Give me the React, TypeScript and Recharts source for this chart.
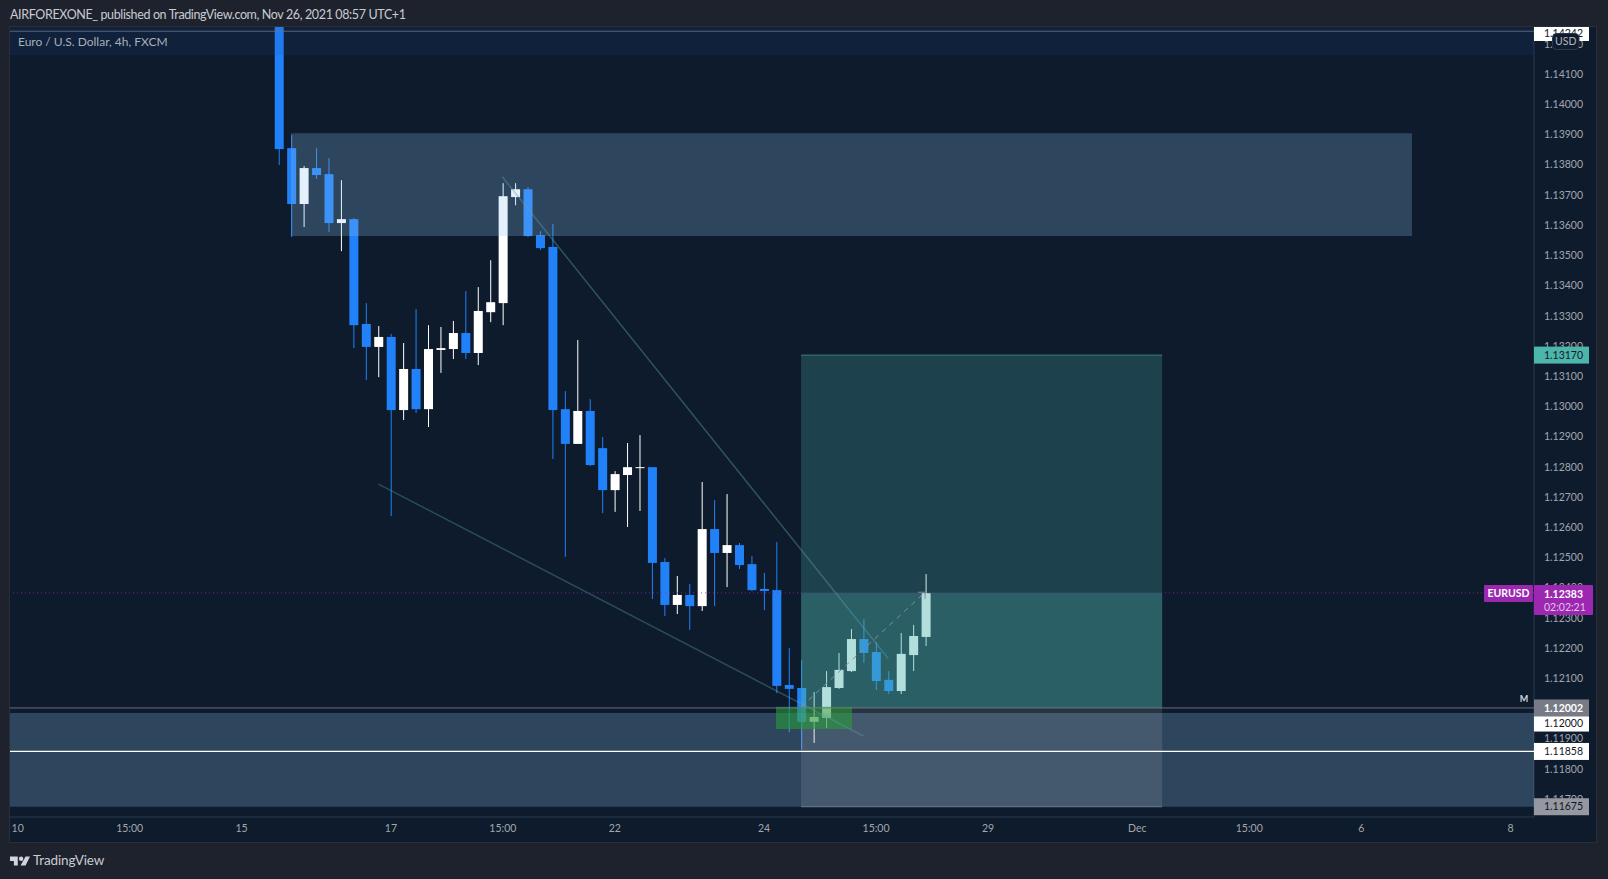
import { Bar, ComposedChart, ReferenceArea, ReferenceLine, XAxis, YAxis } from 'recharts';

const opens = [
  1.1428, 1.13855, 1.1367, 1.13789, 1.13769, 1.13607, 1.1362, 1.13273, 1.13197, 1.1323, 1.12988, 1.13124, 1.12991,
  1.13187, 1.1319, 1.13243, 1.13177, 1.13312, 1.13342, 1.13693, 1.13719, 1.13567, 1.13528, 1.12991, 1.12876, 1.12985,
  1.12862, 1.12723, 1.12773, 1.12796, 1.12799, 1.12485, 1.12343, 1.12376, 1.12339, 1.12594, 1.12515, 1.12541, 1.12478,
  1.12396, 1.12392, 1.12078, 1.12068, 1.11956, 1.11969, 1.12068, 1.12124, 1.1223, 1.12187, 1.12095, 1.12058, 1.12177,
  1.12237,
];
const highs = [
  1.1428, 1.13898, 1.13796, 1.13855, 1.13822, 1.13749, 1.13623, 1.13342, 1.13266, 1.1324, 1.1321, 1.13322, 1.13269,
  1.13263, 1.13283, 1.13382, 1.13395, 1.13484, 1.13739, 1.13739, 1.13726, 1.1358, 1.13604, 1.13051, 1.1322, 1.13024,
  1.12899, 1.12786, 1.12879, 1.12905, 1.12799, 1.12498, 1.12439, 1.12412, 1.1275, 1.1269, 1.1271, 1.12548, 1.12505,
  1.12449, 1.12551, 1.122, 1.12161, 1.12055, 1.12124, 1.12184, 1.12263, 1.12296, 1.1222, 1.12124, 1.1225, 1.12277,
  1.12445,
];
const lows = [
  1.13799, 1.13561, 1.13594, 1.13753, 1.13577, 1.13514, 1.13193, 1.13087, 1.13097, 1.12637, 1.12955, 1.12978, 1.12932,
  1.13111, 1.13157, 1.13157, 1.13137, 1.13279, 1.13269, 1.13666, 1.13561, 1.13518, 1.12826, 1.12502, 1.12876, 1.12803,
  1.12647, 1.12651, 1.12601, 1.12654, 1.12363, 1.12306, 1.12313, 1.1226, 1.12323, 1.12339, 1.12402, 1.12462, 1.12389,
  1.12326, 1.12051, 1.11922, 1.11863, 1.11886, 1.11936, 1.12065, 1.12121, 1.12151, 1.12061, 1.12048, 1.12048, 1.12124,
  1.12207,
];
const closes = [
  1.13852, 1.1367, 1.13789, 1.13766, 1.13607, 1.1362, 1.13269, 1.13197, 1.1323, 1.12988, 1.13124, 1.12991, 1.1319,
  1.13193, 1.13243, 1.13177, 1.13316, 1.13345, 1.13696, 1.13719, 1.13564, 1.13524, 1.12988, 1.12876, 1.12985, 1.12806,
  1.12723, 1.12776, 1.12799, 1.12799, 1.12482, 1.12343, 1.12376, 1.12339, 1.12594, 1.12515, 1.12541, 1.12475, 1.12392,
  1.12389, 1.12075, 1.12065, 1.11956, 1.11972, 1.12071, 1.12128, 1.1223, 1.12184, 1.12091, 1.12058, 1.12181, 1.1224,
  1.12382,
];

const priceTicks = [
  1.117, 1.118, 1.119, 1.12, 1.121, 1.122, 1.123, 1.124, 1.125, 1.126, 1.127, 1.128, 1.129, 1.13, 1.131, 1.132, 1.133,
  1.134, 1.135, 1.136, 1.137, 1.138, 1.139, 1.14, 1.141, 1.142,
];
const timeSlots = [-21, -12, -3, 9, 18, 27, 39, 48, 57, 69, 78, 87, 99];
const timeLabels = ['10', '15:00', '15', '17', '15:00', '22', '24', '15:00', '29', 'Dec', '15:00', '6', '8'];

const slotDomain = [-21.62, 100.89];
const priceDomain = [1.11641, 1.14256];

const candles = opens.map((open, i) => ({
  slot: i,
  open,
  high: highs[i],
  low: lows[i],
  close: closes[i],
}));

const FONT = 'Lato, sans-serif';
const BLUE = '#2181f9';
const AXIS = '#2a3a4e';
const OVER = 1000; // zones sit on top of the candles
const TAGS = 3000;

function Candle(props: any) {
  const { x, y, width, height, payload } = props;
  const pxPerPrice = height / (payload.high - payload.low);
  const color = payload.close >= payload.open ? '#ffffff' : BLUE;
  const top = y + (payload.high - Math.max(payload.open, payload.close)) * pxPerPrice;
  const bottom = y + (payload.high - Math.min(payload.open, payload.close)) * pxPerPrice;
  const mid = x + width / 2;
  return (
    <g>
      <rect x={mid - 0.5} y={y} width={1} height={height} fill={color} />
      <rect x={x} y={top} width={width} height={Math.max(bottom - top, 1)} fill={color} />
    </g>
  );
}

// price tag on the right scale, hung on a ReferenceLine label
function priceTag(text: string, fill: string, color: string, bold = false, dy = -8.5, h = 17) {
  return ({ viewBox }: any) => {
    const left = viewBox.x + viewBox.width;
    return (
      <g fontFamily={FONT} fontSize={10.5}>
        <rect x={left} y={viewBox.y + dy} width={55} height={h} fill={fill} />
        <text
          x={left + 10}
          y={viewBox.y + dy + h / 2 + 3.7}
          fill={color}
          fontWeight={bold ? 700 : 400}
        >
          {text}
        </text>
      </g>
    );
  };
}

function topTag({ viewBox }: any) {
  const left = viewBox.x + viewBox.width;
  return (
    <g fontFamily={FONT} fontSize={10.5}>
      <rect x={left} y={27} width={55} height={14} fill="#ffffff" />
      <text x={left + 10} y={37} fill="#131722">
        1.14242
      </text>
      <rect x={left + 18.5} y={33.5} width={26.5} height={16} rx={4} fill="#0f1c2e" stroke="#2a3a4e" />
      <text x={left + 31.7} y={45.3} fill="#b2b5be" textAnchor="middle">
        USD
      </text>
    </g>
  );
}

function lastPriceTag({ viewBox }: any) {
  const left = viewBox.x + viewBox.width;
  return (
    <g fontFamily={FONT} fontSize={10.5} fill="#ffffff">
      <rect x={left - 50} y={585} width={49} height={17} rx={1} fill="#9c27b0" />
      <text x={left - 25.5} y={597.3} textAnchor="middle" fontWeight={700}>
        EURUSD
      </text>
      <rect x={left} y={585} width={59} height={30} rx={1} fill="#9c27b0" />
      <text x={left + 10} y={598} fontWeight={700}>
        1.12383
      </text>
      <text x={left + 10} y={611} fill="#e3c4ea">
        02:02:21
      </text>
    </g>
  );
}

function entryTag(props: any) {
  const { viewBox } = props;
  const Tag = priceTag('1.12002', '#787b86', '#ffffff', true, -8.5, 17);
  return (
    <g>
      {Tag({ viewBox })}
      <text
        x={viewBox.x + viewBox.width - 10}
        y={viewBox.y - 5.5}
        fontFamily={FONT}
        fontSize={9}
        fontWeight={700}
        fill="#d1d4dc"
        textAnchor="middle"
      >
        M
      </text>
    </g>
  );
}

export default function App() {
  return (
    <div style={{ position: 'absolute', left: 0, top: 0, width: 1608, height: 879, background: '#1e222d', overflow: 'hidden' }}>
      <div
        style={{
          position: 'absolute',
          left: 9,
          top: 26,
          width: 1588,
          height: 817,
          background: '#0d1b2c',
          border: '1px solid #2a2e39',
          boxSizing: 'border-box',
        }}
      />
      <div style={{ position: 'absolute', left: 10, top: 7, fontFamily: FONT, fontSize: 12.5, letterSpacing: -0.37, color: '#c8cbd3', whiteSpace: 'nowrap' }}>
        AIRFOREXONE_ published on TradingView.com, Nov 26, 2021 08:57 UTC+1
      </div>
      <div style={{ position: 'absolute', left: 0, top: 0 }}>
        <ComposedChart
          width={1608}
          height={879}
          data={candles}
          margin={{ top: 27, right: 11, bottom: 36, left: 10 }}
        >
          <XAxis
            dataKey="slot"
            type="number"
            domain={slotDomain}
            allowDataOverflow
            ticks={timeSlots}
            interval={0}
            tickFormatter={(v: number) => timeLabels[timeSlots.indexOf(v)]}
            height={26}
            tickLine={false}
            tickSize={0}
            tickMargin={8}
            axisLine={{ stroke: AXIS }}
            tick={{ fill: '#a3a6af', fontSize: 10.5, fontFamily: FONT }}
          />
          <YAxis
            orientation="right"
            type="number"
            domain={priceDomain}
            allowDataOverflow
            ticks={priceTicks}
            interval={0}
            width={63}
            tickLine={false}
            tickSize={0}
            tickMargin={10}
            axisLine={{ stroke: AXIS }}
            tickFormatter={(v: number) => v.toFixed(5)}
            tick={{ fill: '#a3a6af', fontSize: 10.5, fontFamily: FONT }}
          />

          <Bar dataKey={(d: any) => [d.low, d.high]} barSize={9} shape={Candle} isAnimationActive={false} />

          {/* supply and demand zones */}
          <ReferenceArea zIndex={OVER} x1={slotDomain[0]} x2={slotDomain[1]} y1={1.14163} y2={priceDomain[1]} fill="#1e4fa0" fillOpacity={0.13} stroke="none" />
          <ReferenceArea zIndex={OVER} x1={0.97} x2={91.08} y1={1.13564} y2={1.13904} fill="#90c8f4" fillOpacity={0.25} stroke="none" />
          <ReferenceArea zIndex={OVER} x1={slotDomain[0]} x2={slotDomain[1]} y1={1.11675} y2={1.11985} fill="#90c8f4" fillOpacity={0.25} stroke="none" />

          {/* long position */}
          <ReferenceArea zIndex={OVER} x1={41.97} x2={71} y1={1.12002} y2={1.1317} fill="#50b7b1" fillOpacity={0.25} stroke="none" />
          <ReferenceArea zIndex={OVER} x1={41.97} x2={71} y1={1.12002} y2={1.12383} fill="#50b7b1" fillOpacity={0.25} stroke="none" />
          <ReferenceArea zIndex={OVER} x1={41.97} x2={71} y1={1.11675} y2={1.12002} fill="#f5e4e4" fillOpacity={0.12} stroke="none" />
          <ReferenceLine zIndex={OVER} segment={[{ x: 41.97, y: 1.1317 }, { x: 71, y: 1.1317 }]} stroke="#3e7a7c" />
          <ReferenceLine zIndex={OVER} segment={[{ x: 41.97, y: 1.11675 }, { x: 71, y: 1.11675 }]} stroke="#6f7a8a" />

          <ReferenceArea zIndex={OVER} x1={39.96} x2={46.07} y1={1.11932} y2={1.12006} fill="#2a9a38" fillOpacity={0.6} stroke="none" />

          {/* drawn trend lines */}
          <ReferenceLine zIndex={OVER} segment={[{ x: 17.96, y: 1.1376 }, { x: 48.99, y: 1.12165 }]} stroke="#5fa0a8" strokeWidth={1.5} strokeOpacity={0.42} />
          <ReferenceLine zIndex={OVER} segment={[{ x: 8, y: 1.12743 }, { x: 46.98, y: 1.11909 }]} stroke="#5fa0a8" strokeWidth={1.5} strokeOpacity={0.36} />
          <ReferenceLine zIndex={OVER} segment={[{ x: 41.99, y: 1.12006 }, { x: 51.94, y: 1.12385 }]} stroke="#8a8f9a" strokeDasharray="5 5" />
          <ReferenceLine zIndex={OVER} segment={[{ x: 51.4, y: 1.12385 }, { x: 51.94, y: 1.12385 }]} stroke="#8a8f9a" />
          <ReferenceLine zIndex={OVER} segment={[{ x: 51.94, y: 1.12385 }, { x: 51.94, y: 1.12362 }]} stroke="#8a8f9a" />

          {/* horizontal levels and their tags */}
          <ReferenceLine zIndex={TAGS} y={1.14242} stroke="#6d7686" strokeOpacity={0.8} label={topTag} />
          <ReferenceLine zIndex={TAGS} y={1.1317} stroke="none" label={priceTag('1.13170', '#4db6ac', '#131722')} />
          <ReferenceLine zIndex={TAGS} y={1.12383} stroke="#9c27b0" strokeOpacity={0.75} strokeDasharray="1 3" label={lastPriceTag} />
          <ReferenceLine zIndex={TAGS} y={1.12} stroke="none" label={priceTag('1.12000', '#ffffff', '#131722', false, 7.5, 15.5)} />
          <ReferenceLine zIndex={TAGS} y={1.12002} stroke="#787b86" strokeOpacity={0.85} label={entryTag} />
          <ReferenceLine zIndex={TAGS} y={1.11858} stroke="#ffffff" strokeWidth={1.25} label={priceTag('1.11858', '#ffffff', '#131722')} />
          <ReferenceLine zIndex={TAGS} y={1.11675} stroke="none" label={priceTag('1.11675', '#9598a1', '#131722')} />
        </ComposedChart>
      </div>
      <div style={{ position: 'absolute', left: 18, top: 34, fontFamily: FONT, fontSize: 12, color: '#a9aeb8', whiteSpace: 'nowrap' }}>
        Euro / U.S. Dollar, 4h, FXCM
      </div>
      <svg style={{ position: 'absolute', left: 10, top: 855 }} width={20} height={12} viewBox="0 4 36 20">
        <path d="M14 6H0v8h7v8h7V6Z M28 6h8l-8 16h-9L28 6Z" fill="#d1d4dc" />
        <circle cx={20} cy={10} r={4} fill="#d1d4dc" />
      </svg>
      <div style={{ position: 'absolute', left: 33, top: 852, fontFamily: FONT, fontSize: 13.5, letterSpacing: -0.15, color: '#c8cbd3', whiteSpace: 'nowrap' }}>
        TradingView
      </div>
    </div>
  );
}
